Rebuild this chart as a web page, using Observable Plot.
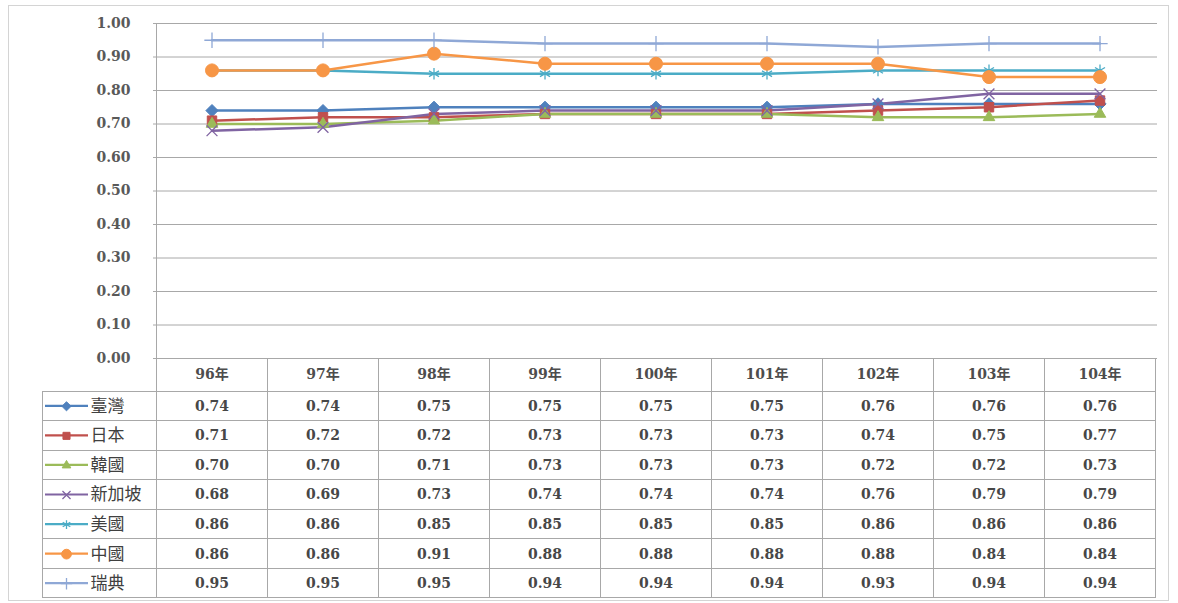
<!DOCTYPE html>
<html><head><meta charset="utf-8">
<script src="https://cdn.jsdelivr.net/npm/d3@7"></script>
<script src="https://cdn.jsdelivr.net/npm/@observablehq/plot@0.6"></script>
<style>
html,body{margin:0;padding:0;background:#fff;}
#frame{position:absolute;left:8px;top:5px;width:1161px;height:596px;border:1px solid #d4d4d4;box-sizing:border-box;}
#chart{position:absolute;left:0;top:0;}
</style></head><body>
<div id="frame"></div><div id="chart"></div>
<script>
// ---- data ----
const years = ["96年","97年","98年","99年","100年","101年","102年","103年","104年"];
const seriesNames = ["臺灣","日本","韓國","新加坡","美國","中國","瑞典"];
const taiwan    = [0.74,0.74,0.75,0.75,0.75,0.75,0.76,0.76,0.76];
const japan     = [0.71,0.72,0.72,0.73,0.73,0.73,0.74,0.75,0.77];
const korea     = [0.70,0.70,0.71,0.73,0.73,0.73,0.72,0.72,0.73];
const singapore = [0.68,0.69,0.73,0.74,0.74,0.74,0.76,0.79,0.79];
const usa       = [0.86,0.86,0.85,0.85,0.85,0.85,0.86,0.86,0.86];
const china     = [0.86,0.86,0.91,0.88,0.88,0.88,0.88,0.84,0.84];
const sweden    = [0.95,0.95,0.95,0.94,0.94,0.94,0.93,0.94,0.94];
const yTicks = [0,0.1,0.2,0.3,0.4,0.5,0.6,0.7,0.8,0.9,1.0];

// ---- styles ----
const seriesValues = [taiwan,japan,korea,singapore,usa,china,sweden];
const colors  = ["#4F81BD","#C0504D","#9BBB59","#8064A2","#4BACC6","#F79646","#8FA8D6"];
const symbols = ["diamond2","square2","triangle2","times","asterisk","circle","plus"];
const filled  = [true,true,true,false,false,true,false];
const sizes   = [5.5,6,5.5,5,5.5,6.5,5];

const rows = [];
seriesNames.forEach((s,i)=>years.forEach((y,j)=>rows.push({series:s, idx:i, year:y, value:seriesValues[i][j]})));

const W=1178, H=603, mL=153, mR=21, mT=23, mB=245;
const headerH = 33, rowH = 29.57;
const numFont = "DejaVu Serif, 'Noto Sans CJK TC', serif";
const cjkFont = "'Noto Sans CJK TC', sans-serif";

const marks = [
  Plot.ruleY(yTicks, {y:d=>d, stroke:"#a8a8a8", strokeWidth:1}),
  Plot.text(yTicks, {frameAnchor:"left", y:d=>d, text:d=>d.toFixed(2), textAnchor:"end", dx:-23,
    fontFamily:numFont, fontWeight:"bold", fontSize:14, fill:"#595959"}),
  Plot.line(rows, {x:"year", y:"value", z:"series", stroke:"series", strokeWidth:2.5, curve:"linear"}),
];
seriesNames.forEach((s,i)=>{
  const data = rows.filter(r=>r.idx===i);
  marks.push(Plot.dot(data, {x:"year", y:"value", symbol:()=>symbols[i], r:sizes[i],
    fill: filled[i] ? colors[i] : "none", stroke: colors[i], strokeWidth: filled[i]?1:1.3}));
});
// header row
marks.push(Plot.text(years, {x:d=>d, y:()=>0, text:d=>d, dy:headerH/2,
  fontFamily:numFont, fontWeight:"bold", fontSize:14, fill:"#4d4d4d"}));
// table values & legend
seriesNames.forEach((s,i)=>{
  const dy = headerH + (i+0.5)*rowH;
  const data = rows.filter(r=>r.idx===i);
  marks.push(Plot.text(data, {x:"year", y:()=>0, text:d=>d.value.toFixed(2), dy,
    fontFamily:numFont, fontWeight:"bold", fontSize:14, fill:"#474747"}));
  marks.push(Plot.text([s], {frameAnchor:"left", y:()=>0, text:d=>d, dx:90-mL, dy, textAnchor:"start",
    fontFamily:cjkFont, fontSize:17, fill:"#404040"}));
  marks.push(Plot.dot([s], {frameAnchor:"left", y:()=>0, dx:66-mL, dy, symbol:()=>symbols[i], r:sizes[i]*0.75,
    fill: filled[i] ? colors[i] : "none", stroke: colors[i], strokeWidth: filled[i]?1:1.3}));
});

const plot = Plot.plot({
  width:W, height:H, marginLeft:mL, marginRight:mR, marginTop:mT, marginBottom:mB,
  style:{background:"transparent", overflow:"visible"},
  x:{type:"band", domain:years, padding:0, axis:null},
  y:{domain:[0,1], axis:null},
  color:{domain:seriesNames, range:colors},
  symbol:{domain:symbols, range:symbols},
  marks
});
document.getElementById("chart").appendChild(plot);

// table grid using Plot's own scales
const sx = plot.scale("x"), sy = plot.scale("y");
const bw = sx.bandwidth;
const xs = years.map(y=>sx.apply(y));
const xLeft = xs[0], xRight = xs[xs.length-1] + bw;
const y0 = sy.apply(0), y1 = sy.apply(1);
const tableLeft = 42;
const svg = d3.select(plot);
const g = svg.insert("g", ":first-child").attr("stroke","#a8a8a8").attr("stroke-width",1).attr("shape-rendering","crispEdges");
g.append("line").attr("x1",xLeft).attr("x2",xLeft).attr("y1",y1).attr("y2",y0);
[...xs, xRight].forEach(x=>g.append("line").attr("x1",x).attr("x2",x).attr("y1",y0).attr("y2",y0+headerH+7*rowH));
g.append("line").attr("x1",tableLeft).attr("x2",tableLeft).attr("y1",y0+headerH).attr("y2",y0+headerH+7*rowH);
for(let k=0;k<=7;k++){
  const yy = y0+headerH+k*rowH;
  g.append("line").attr("x1",tableLeft).attr("x2",xRight).attr("y1",yy).attr("y2",yy);
}
// legend swatch lines
seriesNames.forEach((s,i)=>{
  const yy = y0+headerH+(i+0.5)*rowH;
  svg.append("line").lower().attr("x1",45).attr("x2",88).attr("y1",yy).attr("y2",yy)
    .attr("stroke",colors[i]).attr("stroke-width",2.2);
});
</script>
</body></html>
